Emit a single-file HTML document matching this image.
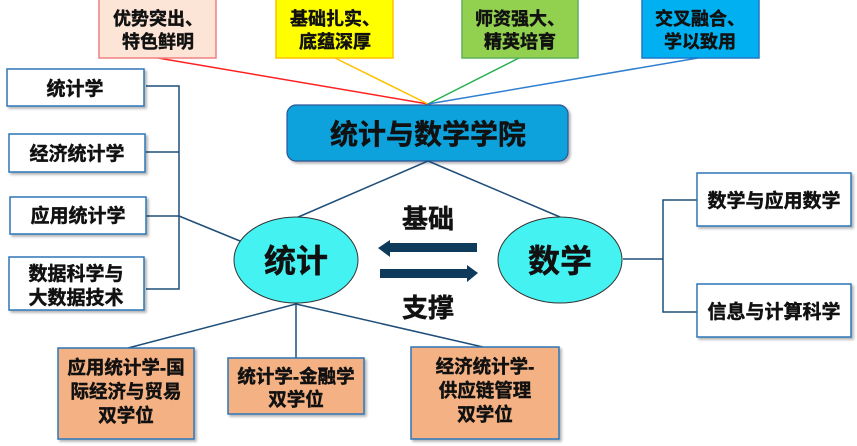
<!DOCTYPE html>
<html><head><meta charset="utf-8"><style>
html,body{margin:0;padding:0;background:#fff;}
svg{display:block;}
text{font-family:"Liberation Sans","Noto Sans CJK SC",sans-serif;font-weight:bold;fill:#111;stroke:#111;stroke-width:0.45;text-anchor:middle;}
</style></head><body>
<svg width="857" height="446" viewBox="0 0 857 446" xmlns="http://www.w3.org/2000/svg">
<defs>
<filter id="sh" x="-10%" y="-10%" width="130%" height="130%"><feDropShadow dx="2" dy="2" stdDeviation="1.2" flood-color="#000" flood-opacity="0.3"/></filter>
</defs>
<line x1="158" y1="58" x2="428" y2="104" stroke="#ff2020" stroke-width="1.5"/>
<line x1="335" y1="58" x2="428" y2="104" stroke="#ffc000" stroke-width="1.5"/>
<line x1="519" y1="58" x2="428" y2="104" stroke="#22b14c" stroke-width="1.5"/>
<line x1="698" y1="58" x2="428" y2="104" stroke="#2f7fd0" stroke-width="1.5"/>
<rect x="99" y="-2" width="117" height="60" fill="#fce4d6" stroke="#f08080" stroke-width="1.5"/>
<text x="158" y="25" font-size="18">优势突出、</text><text x="158" y="48" font-size="18">特色鲜明</text>
<rect x="276" y="-2" width="117" height="60" fill="#ffff00" stroke="#ffc000" stroke-width="1.5"/>
<text x="335" y="25" font-size="18">基础扎实、</text><text x="335" y="48" font-size="18">底蕴深厚</text>
<rect x="462" y="-2" width="116" height="60" fill="#92d050" stroke="#5fb05f" stroke-width="1.5"/>
<text x="520" y="25" font-size="18">师资强大、</text><text x="520" y="48" font-size="18">精英培育</text>
<rect x="642" y="-2" width="117" height="60" fill="#00b0f0" stroke="#1f78c8" stroke-width="1.5"/>
<text x="700" y="25" font-size="18">交叉融合、</text><text x="700" y="48" font-size="18">学以致用</text>
<rect x="287" y="105" width="281" height="56" rx="9" fill="#0aa2dc" stroke="#2f5597" stroke-width="1.2" filter="url(#sh)"/>
<text x="428" y="144" font-size="28">统计与数学学院</text>
<line x1="428" y1="161" x2="296" y2="218" stroke="#1f4e79" stroke-width="1.5"/>
<line x1="428" y1="161" x2="560" y2="217" stroke="#1f4e79" stroke-width="1.5"/>
<g stroke="#1f4e79" stroke-width="1.5" fill="none">
<polyline points="146,86 179,86 179,289 146,289"/>
<line x1="146" y1="152" x2="179" y2="152"/>
<line x1="146" y1="216" x2="179" y2="216"/>
<line x1="179" y1="216" x2="240" y2="241"/>
<polyline points="697,200 663,200 663,312 697,312"/>
<line x1="623" y1="259" x2="663" y2="259"/>
<line x1="296" y1="304" x2="128" y2="348"/>
<line x1="296" y1="304" x2="296" y2="358"/>
<line x1="296" y1="304" x2="483" y2="347"/>
</g>
<g fill="#fff" stroke="#2e75b6" stroke-width="1.5" filter="url(#sh)">
<rect x="7" y="69" width="137" height="37"/>
<rect x="9" y="134" width="136" height="38"/>
<rect x="10" y="197" width="136" height="37"/>
<rect x="9" y="257" width="135" height="53"/>
<rect x="697" y="173" width="154" height="53"/>
<rect x="697" y="284" width="154" height="53"/>
</g>
<text x="75" y="95" font-size="19">统计学</text>
<text x="77" y="160" font-size="19">经济统计学</text>
<text x="78" y="222" font-size="19">应用统计学</text>
<text x="76" y="280" font-size="19">数据科学与</text><text x="76" y="304" font-size="19">大数据技术</text>
<text x="774" y="207" font-size="19">数学与应用数学</text>
<text x="774" y="318" font-size="19">信息与计算科学</text>
<ellipse cx="296" cy="260" rx="62" ry="43" fill="#44f2f2" stroke="#333" stroke-width="1"/>
<text x="296" y="272" font-size="32">统计</text>
<ellipse cx="560" cy="260" rx="62" ry="43" fill="#44f2f2" stroke="#333" stroke-width="1"/>
<text x="560" y="272" font-size="32">数学</text>
<polygon points="378,248 390,240 390,243 477,243 477,252 390,252 390,257" fill="#0e3a5c"/>
<polygon points="478,273 467,265 467,269 380,269 380,278 467,278 467,282" fill="#0e3a5c"/>
<text x="428" y="228" font-size="26">基础</text>
<text x="428" y="317" font-size="26">支撑</text>
<g fill="#f4b183" stroke="#2e75b6" stroke-width="1.5" filter="url(#sh)">
<rect x="58" y="348" width="136" height="91"/>
<rect x="228" y="358" width="136" height="56"/>
<rect x="411" y="347" width="148" height="92"/>
</g>
<text x="126" y="374" font-size="18.5">应用统计学-国</text>
<text x="126" y="398" font-size="18.5">际经济与贸易</text>
<text x="126" y="422" font-size="18.5">双学位</text>
<text x="296" y="383" font-size="18.5">统计学-金融学</text>
<text x="296" y="406" font-size="18.5">双学位</text>
<text x="485" y="373" font-size="18.5">经济统计学-</text>
<text x="485" y="397" font-size="18.5">供应链管理</text>
<text x="485" y="421" font-size="18.5">双学位</text>
</svg>
</body></html>
